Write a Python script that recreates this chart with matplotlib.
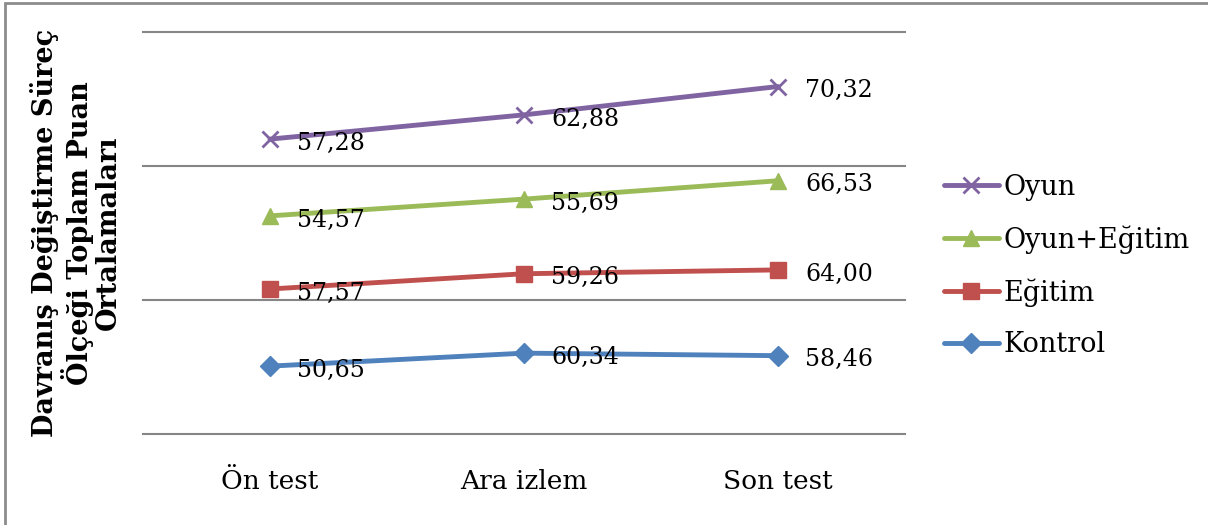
import matplotlib.pyplot as plt
import numpy as np
from matplotlib.patches import Rectangle

plt.rcParams['font.family'] = ['DejaVu Serif']

categories = ['Ön test', 'Ara izlem', 'Son test']
series = ['Kontrol', 'Eğitim', 'Oyun+Eğitim', 'Oyun']
kontrol = [50.65, 60.34, 58.46]
egitim = [57.57, 59.26, 64.00]
oyun_egitim = [54.57, 55.69, 66.53]
oyun = [57.28, 62.88, 70.32]
colors = ['#4F81BD', '#C0504D', '#9BBB59', '#8064A2']
markers = ['D', 's', '^', 'x']
msizes = [10, 11, 11, 12]

vals = np.array([kontrol, egitim, oyun_egitim, oyun])
stacked = np.cumsum(vals, axis=0)

fig = plt.figure(figsize=(12.08, 5.25), dpi=100)
ax = fig.add_axes([143/1208, 91/525, 762/1208, 402/525])

x = np.arange(len(categories))
handles = []
for i in range(len(series)):
    mew = 2 if markers[i] == 'x' else 1
    h, = ax.plot(x, stacked[i], color=colors[i], lw=3.5, marker=markers[i],
                 ms=msizes[i], mew=mew, mec=colors[i], mfc=colors[i],
                 solid_capstyle='round', label=series[i])
    handles.append(h)
    for j in range(len(x)):
        ax.annotate(f'{vals[i, j]:.2f}'.replace('.', ','), (x[j], stacked[i, j]),
                    xytext=(19.5, -3), textcoords='offset points',
                    ha='left', va='center', fontsize=17)

ax.set_xlim(-0.5, 2.5)
ax.set_ylim(0, 300)
ax.set_yticks([0, 100, 200, 300])
ax.set_yticklabels([])
ax.yaxis.grid(True, color='#868686', lw=1.5)
for gl in ax.get_ygridlines():
    gl.set_clip_on(False)
ax.set_axisbelow(True)
ax.tick_params(length=0)
ax.tick_params(axis='x', pad=25)
ax.set_xticks(x)
ax.set_xticklabels(categories, fontsize=19)
for s in ax.spines.values():
    s.set_visible(False)

fig.text(76/1208, 1 - 233/525,
         'Davranış Değiştirme Süreç\nÖlçeği Toplam Puan\nOrtalamaları',
         rotation=90, ha='center', va='center', fontsize=19.5, fontweight='bold',
         linespacing=1.05)

fig.legend(handles[::-1], series[::-1], loc='center left',
           bbox_to_anchor=(920/1208, 1 - 266/525), frameon=False, fontsize=19.5,
           handlelength=2.0, handletextpad=0.2, labelspacing=0.9)

fig.patches.append(Rectangle((5/1208, -0.1), 1.2, 1.1 - 3/525, transform=fig.transFigure,
                             fill=False, ec='#8c8c8c', lw=2))

fig.savefig('out.png', dpi=100)
